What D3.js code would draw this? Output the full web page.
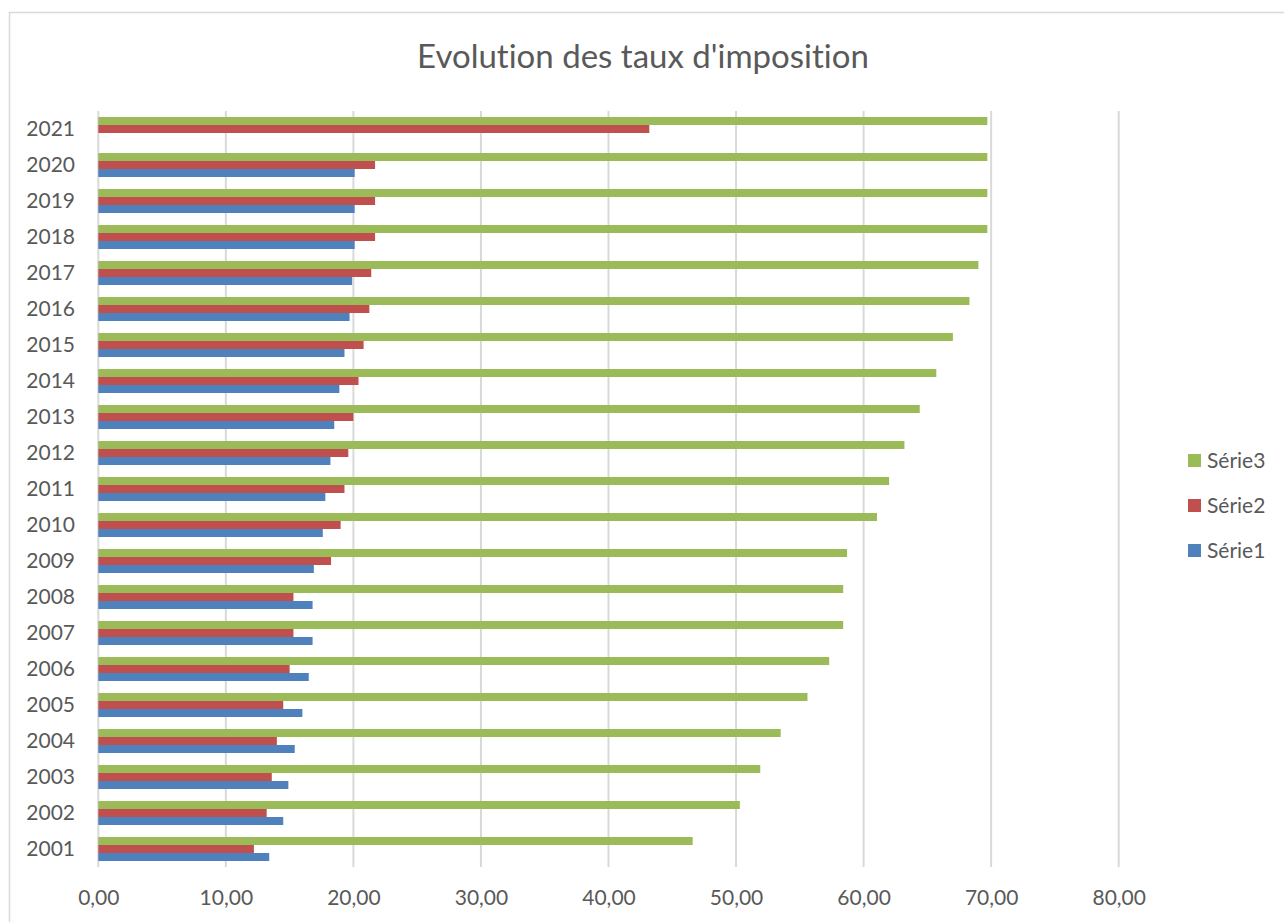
<!DOCTYPE html>
<html>
<head>
<meta charset="utf-8">
<script src="https://cdnjs.cloudflare.com/ajax/libs/d3/7.8.5/d3.min.js"></script>
<style>
	body { margin: 0; background: #fff; }
	text { font-family: Lato, 'Open Sans', sans-serif; fill: #595959; font-variant-ligatures: none; }
</style>
</head>
<body>
<script>
// data
var years = ['2001','2002','2003','2004','2005','2006','2007','2008','2009','2010','2011',
	'2012','2013','2014','2015','2016','2017','2018','2019','2020','2021'];
var serie1 = [13.4, 14.5, 14.9, 15.4, 16.0, 16.5, 16.8, 16.8, 16.9, 17.6, 17.8,
	18.2, 18.5, 18.9, 19.3, 19.7, 19.9, 20.1, 20.1, 20.1, null];
var serie2 = [12.2, 13.2, 13.6, 14.0, 14.5, 15.0, 15.3, 15.3, 18.25, 19.0, 19.3,
	19.6, 20.0, 20.4, 20.8, 21.25, 21.4, 21.7, 21.7, 21.7, 43.2];
var serie3 = [46.6, 50.3, 51.9, 53.5, 55.6, 57.3, 58.4, 58.4, 58.7, 61.05, 62.0,
	63.2, 64.4, 65.7, 67.0, 68.3, 69.0, 69.7, 69.7, 69.7, 69.7];
var seriesNames = ['Série3', 'Série2', 'Série1'];
var xTicks = [0, 10, 20, 30, 40, 50, 60, 70, 80];

var colors = d3.scaleOrdinal()
	.domain(seriesNames)
	.range(['#9bbb59', '#c0504d', '#4f81bd']);

var svg = d3.select('body')
	.append('svg')
	.attr('width', 1284)
	.attr('height', 922);

// chart border
svg.append('rect')
	.attr('x', 9.5)
	.attr('y', 12.5)
	.attr('width', 1300)
	.attr('height', 940)
	.style('fill', 'none')
	.style('stroke', '#d9d9d9')
	.style('stroke-width', 1.5);

var x = d3.scaleLinear()
	.domain([0, 80])
	.range([98.3, 1118.7]);

var y = d3.scaleBand()
	.domain(years.slice().reverse())
	.range([111, 867])
	.paddingInner(1/3)
	.paddingOuter(1/6);

var ySub = d3.scaleBand()
	.domain(seriesNames)
	.range([0, y.bandwidth()]);

// title
svg.append('text')
	.attr('x', 643)
	.attr('y', 68)
	.style('text-anchor', 'middle')
	.style('font-size', '33px')
	.text("Evolution des taux d'imposition");

// gridlines
svg.append('g')
	.selectAll('line')
	.data(xTicks)
	.enter()
	.append('line')
	.attr('x1', function(d){ return x(d); })
	.attr('x2', function(d){ return x(d); })
	.attr('y1', 111)
	.attr('y2', 867)
	.style('stroke', '#d9d9d9')
	.style('stroke-width', 2);

// x axis labels
var fmt = function(d) { return d3.format('.2f')(d).replace('.', ','); };
var xAxis = d3.axisBottom(x)
	.tickValues(xTicks)
	.tickFormat(fmt)
	.tickSize(0)
	.tickPadding(0);
var gx = svg.append('g')
	.attr('transform', 'translate(0,905)')
	.call(xAxis);
gx.select('.domain').remove();
gx.selectAll('text')
	.attr('dy', 0)
	.style('font-size', '21px')
	.style('font-family', 'Lato, sans-serif')
	.style('fill', '#595959');

// y axis labels
var yAxis = d3.axisLeft(y)
	.tickSize(0)
	.tickPadding(0);
var gy = svg.append('g')
	.attr('transform', 'translate(75,0)')
	.call(yAxis);
gy.select('.domain').remove();
gy.selectAll('text')
	.style('font-size', '21px')
	.style('font-family', 'Lato, sans-serif')
	.style('fill', '#595959');

// bars
var rows = years.map(function(yr, i) {
	return { year: yr, values: [
		{ name: 'Série3', value: serie3[i] },
		{ name: 'Série2', value: serie2[i] },
		{ name: 'Série1', value: serie1[i] }
	]};
});

var groups = svg.append('g')
	.selectAll('g')
	.data(rows)
	.enter()
	.append('g')
	.attr('transform', function(d){ return 'translate(0,' + y(d.year) + ')'; });

groups.selectAll('rect')
	.data(function(d){ return d.values.filter(function(v){ return v.value != null; }); })
	.enter()
	.append('rect')
	.attr('x', x(0))
	.attr('y', function(d){ return ySub(d.name); })
	.attr('width', function(d){ return x(d.value) - x(0); })
	.attr('height', ySub.bandwidth())
	.style('fill', function(d){ return colors(d.name); });

// legend
var legend = svg.append('g')
	.selectAll('g')
	.data(seriesNames)
	.enter()
	.append('g')
	.attr('transform', function(d, i){ return 'translate(1188,' + (461 + i * 45) + ')'; });
legend.append('rect')
	.attr('x', 0)
	.attr('y', -7)
	.attr('width', 13)
	.attr('height', 13)
	.style('fill', function(d){ return colors(d); });
legend.append('text')
	.attr('x', 19)
	.attr('y', 7)
	.style('font-size', '21px')
	.text(function(d){ return d; });
</script>
</body>
</html>
